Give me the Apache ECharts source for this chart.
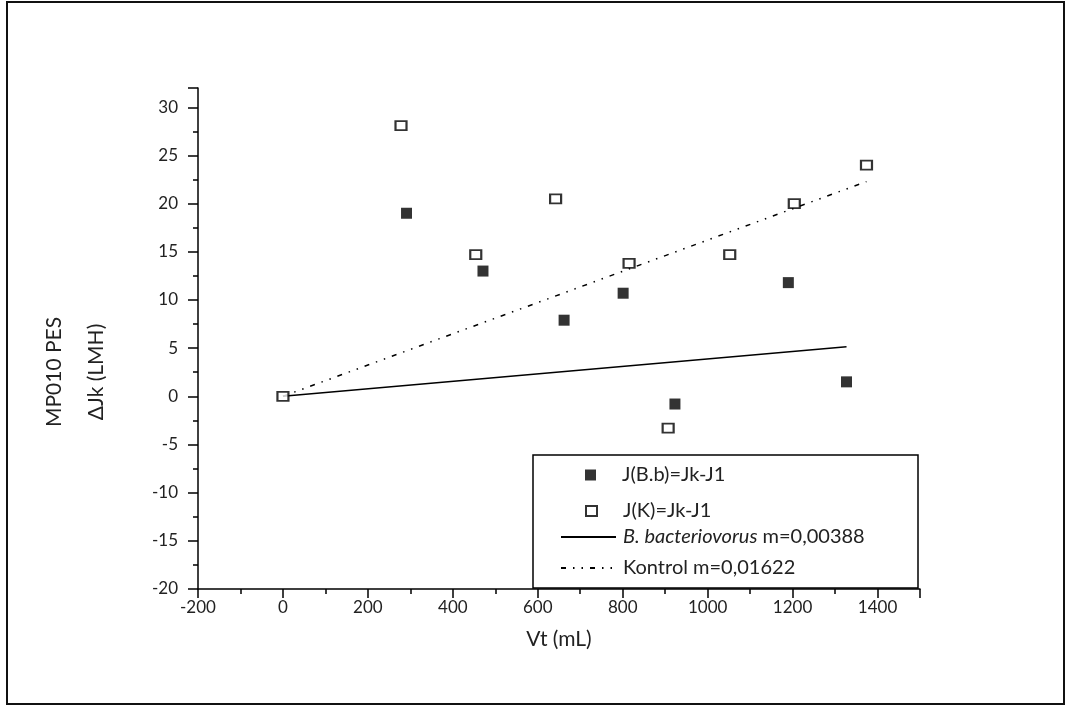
<!DOCTYPE html>
<html>
<head>
    <meta charset="utf-8">
    <script src="https://cdn.jsdelivr.net/npm/echarts@6/dist/echarts.min.js"></script>
</head>
<body style="margin:0;background:#fff;">
    <div id="main" style="width:1066px;height:709px;"></div>

    <script type="text/javascript">
        // J(B.b) = Jk - J1  (filled squares)
        var bbX = [291, 471, 662, 801, 923, 1190, 1327];
        var bbY = [19.0, 13.0, 7.9, 10.7, -0.8, 11.8, 1.5];
        // J(K) = Jk - J1  (hollow squares)
        var kX = [0, 278, 454, 642, 815, 907, 1052, 1204, 1374];
        var kY = [0, 28.1, 14.7, 20.5, 13.8, -3.3, 14.7, 20.0, 24.0];
        // fitted slopes through origin
        var slopeBb = 0.00388;
        var slopeK = 0.01622;

        var seriesNames = ['J(B.b)=Jk-J1', 'J(K)=Jk-J1', 'B. bacteriovorus m=0,00388', 'Kontrol m=0,01622'];

        function pairs(xs, ys) {
            return xs.map(function (x, i) { return [x, ys[i]]; });
        }
        function fitLine(xs, m) {
            var xmax = Math.max.apply(null, xs);
            return [[0, 0], [xmax, m * xmax]];
        }

        var font = 'Lato';
        var legFont = 20;
        var myChart = echarts.init(document.getElementById('main'));

        function legendAt(item, left, top, w, h, padLeft, extra) {
            var l = {
                data: [item],
                orient: 'vertical',
                left: left,
                top: top,
                padding: 0,
                itemWidth: w,
                itemHeight: h,
                selectedMode: false,
                textStyle: {
                    fontFamily: font,
                    fontSize: legFont,
                    color: '#222',
                    lineHeight: 22,
                    padding: [0, 0, 0, padLeft]
                }
            };
            if (extra) { for (var k in extra) l[k] = extra[k]; }
            return l;
        }

        option = {
            animation: false,
            backgroundColor: '#fff',
            grid: { left: 198, right: 146, top: 88, bottom: 120 },
            xAxis: {
                type: 'value',
                min: -200,
                max: 1500,
                interval: 200,
                name: 'Vt (mL)',
                nameLocation: 'middle',
                nameGap: 40,
                nameTextStyle: { fontFamily: font, fontSize: 21, color: '#222' },
                axisLine: { onZero: false, lineStyle: { color: '#000', width: 1.5 } },
                axisTick: { length: 9, lineStyle: { color: '#000', width: 1.5 } },
                minorTick: { show: true, splitNumber: 2, length: 5, lineStyle: { color: '#000', width: 1.5 } },
                axisLabel: {
                    fontFamily: font, fontSize: 17, color: '#222', margin: 10, showMaxLabel: false,
                    formatter: function (v) { return String(v); }
                },
                splitLine: { show: false }
            },
            yAxis: {
                type: 'value',
                min: -20,
                max: 32,
                interval: 5,
                axisLine: { onZero: false, lineStyle: { color: '#000', width: 1.5 } },
                axisTick: { length: 10, lineStyle: { color: '#000', width: 1.5 } },
                minorTick: { show: true, splitNumber: 2, length: 5, lineStyle: { color: '#000', width: 1.5 } },
                axisLabel: {
                    fontFamily: font, fontSize: 17, color: '#222', margin: 20, showMaxLabel: false,
                    formatter: function (v) { return String(v); }
                },
                splitLine: { show: false }
            },
            legend: [
                legendAt(seriesNames[0], 585, 464, 11, 11, 21),
                legendAt(seriesNames[1], 585, 500, 11, 10, 21),
                legendAt(seriesNames[2], 560, 526, 55, 12, 2, {
                    itemStyle: { opacity: 0 },
                    formatter: function () { return '{i|B. bacteriovorus} m=0,00388'; },
                    textStyle: {
                        fontFamily: font, fontSize: legFont, color: '#222', lineHeight: 22,
                        padding: [0, 0, 0, 2],
                        rich: { i: { fontFamily: font, fontSize: legFont, fontStyle: 'italic', color: '#222' } }
                    }
                }),
                legendAt(seriesNames[3], 560, 557, 55, 12, 2, { itemStyle: { opacity: 0 } })
            ],
            graphic: [
                {
                    type: 'rect',
                    shape: { x: 7, y: 2, width: 1057, height: 702 },
                    style: { fill: null, stroke: '#111', lineWidth: 2 },
                    silent: true
                },
                {
                    type: 'rect',
                    shape: { x: 533, y: 455, width: 385, height: 133 },
                    style: { fill: null, stroke: '#000', lineWidth: 1.5 },
                    silent: true
                },
                {
                    type: 'text',
                    x: 54, y: 372, rotation: Math.PI / 2,
                    style: { text: 'MP010 PES', fontFamily: font, fontSize: 21, fill: '#222', align: 'center', verticalAlign: 'middle' }
                },
                {
                    type: 'text',
                    x: 96, y: 372, rotation: Math.PI / 2,
                    style: { text: '\u0394Jk (LMH)', fontFamily: font, fontSize: 21, fill: '#222', align: 'center', verticalAlign: 'middle' }
                }
            ],
            series: [
                {
                    name: seriesNames[0],
                    type: 'scatter',
                    data: pairs(bbX, bbY),
                    symbol: 'rect',
                    symbolSize: [11, 11],
                    itemStyle: { color: '#000' },
                    z: 3
                },
                {
                    name: seriesNames[1],
                    type: 'scatter',
                    data: pairs(kX, kY),
                    symbol: 'rect',
                    symbolSize: [11, 9],
                    itemStyle: { color: '#fff', borderColor: '#000', borderWidth: 2 },
                    z: 4
                },
                {
                    name: seriesNames[2],
                    type: 'line',
                    data: fitLine(bbX, slopeBb),
                    symbol: 'none',
                    lineStyle: { color: '#000', width: 1.5, type: 'solid' },
                    itemStyle: { color: '#000' }
                },
                {
                    name: seriesNames[3],
                    type: 'line',
                    data: fitLine(kX, slopeK),
                    symbol: 'none',
                    lineStyle: { color: '#000', width: 1.5, type: [5, 7, 1.5, 7, 1.5, 7] },
                    itemStyle: { color: '#000' }
                }
            ]
        };

        myChart.setOption(option);
    </script>
</body>
</html>
